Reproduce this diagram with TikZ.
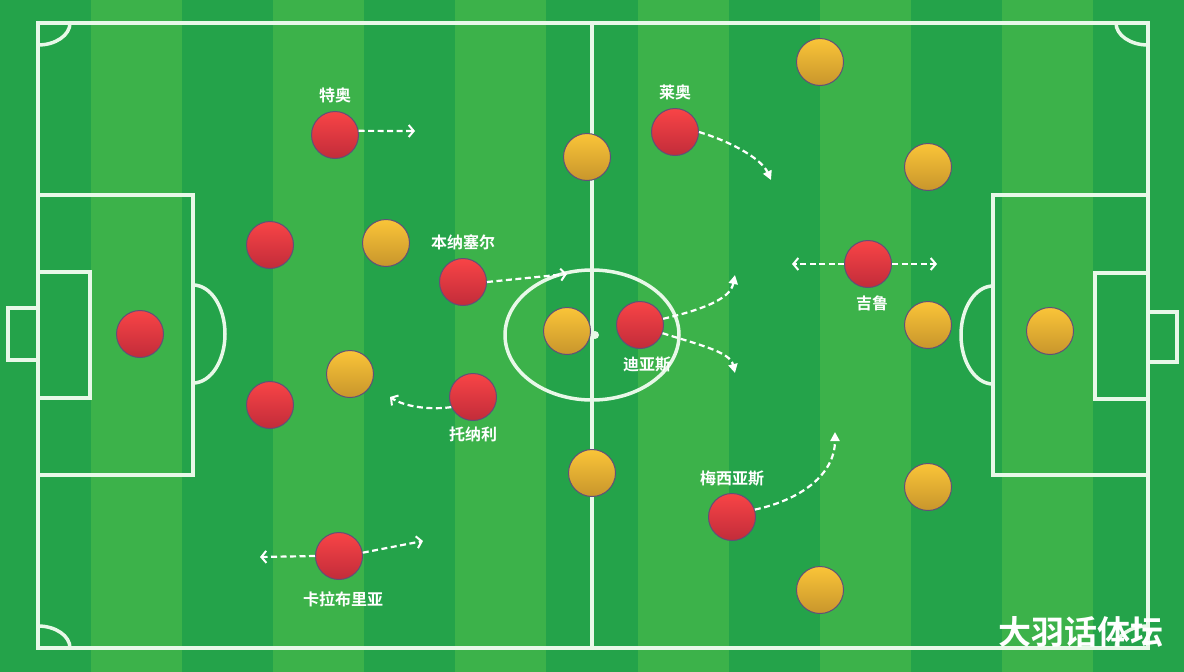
\documentclass[tikz,border=0pt]{standalone}
\usepackage{fontspec}
\newfontfamily\cjk{Noto Sans CJK SC}[BoldFont={Noto Sans CJK SC Bold}]
\usetikzlibrary{positioning,arrows.meta}

\definecolor{pitchdark}{RGB}{36,163,74}
\definecolor{pitchlight}{RGB}{60,178,74}
\definecolor{chalk}{RGB}{232,248,232}
\definecolor{redtop}{RGB}{248,68,70}
\definecolor{redbot}{RGB}{194,44,58}
\definecolor{goldtop}{RGB}{250,196,56}
\definecolor{goldbot}{RGB}{200,150,44}
\definecolor{rim}{RGB}{96,80,120}

\tikzset{
  pitchline/.style={draw=chalk, line width=3.5pt},
  player/.style={circle, minimum size=47pt, inner sep=0pt, line width=1pt, draw=rim},
  home/.style={player, top color=redtop, bottom color=redbot},
  away/.style={player, top color=goldtop, bottom color=goldbot},
  tag/.style={text=white, inner sep=0pt, font=\cjk\bfseries\fontsize{16}{16}\selectfont},
  run/.style={draw=white, line width=2.2pt, dash pattern=on 6pt off 3.5pt,
    -{Straight Barb[length=5pt,width=12pt,line width=2pt]}},
  curverun/.style={draw=white, line width=2.2pt, dash pattern=on 6pt off 3.5pt,
    -{Triangle[length=9pt,width=9pt]}}
}

\begin{document}
\begin{tikzpicture}[x=1pt, y=-1pt]
  \useasboundingbox (0,0) rectangle (1184,672);

  \foreach \i in {0,2,...,12}
    \fill[pitchdark] (\i*91.08,0) rectangle ++(91.08,672);
  \foreach \i in {1,3,...,11}
    \fill[pitchlight] (\i*91.08,0) rectangle ++(91.08,672);

  \draw[pitchline] (38,23) rectangle (1148,648);
  \draw[pitchline] (592,23) -- (592,648);
  \draw[pitchline] (592,335) ellipse [x radius=87, y radius=65];
  \fill[chalk] (595,335) circle [radius=4];

  \draw[pitchline] (38,195) rectangle (193,475);
  \draw[pitchline] (38,272) rectangle (90,398);
  \draw[pitchline] (38,308) -- (8,308) -- (8,360) -- (38,360);
  \draw[pitchline] (193,285) arc [start angle=-90, end angle=90, x radius=32, y radius=49];

  \draw[pitchline] (993,195) rectangle (1148,475);
  \draw[pitchline] (1095,273) rectangle (1148,399);
  \draw[pitchline] (1148,312) -- (1177,312) -- (1177,362) -- (1148,362);
  \draw[pitchline] (993,286) arc [start angle=270, end angle=90, x radius=32, y radius=49];

  \draw[pitchline] (70,23) arc [start angle=0, end angle=90, x radius=32, y radius=22];
  \draw[pitchline] (1116,23) arc [start angle=180, end angle=90, x radius=32, y radius=22];
  \draw[pitchline] (70,648) arc [start angle=0, end angle=-90, x radius=32, y radius=22];
  \draw[pitchline] (1116,648) arc [start angle=180, end angle=270, x radius=32, y radius=22];

  \node[home] (keeper) at (140,334) {};
  \node[home] (cbl) at (270,245) {};
  \node[home] (cbr) at (270,405) {};
  \node[home] (teo) at (335,135) {};
  \node[home] (calabria) at (339,556) {};
  \node[home] (bennacer) at (463,282) {};
  \node[home] (tonali) at (473,397) {};
  \node[home] (leao) at (675,132) {};
  \node[home] (diaz) at (640,325) {};
  \node[home] (messias) at (732,517) {};
  \node[home] (giroud) at (868,264) {};

  \node[away] (o1) at (386,243) {};
  \node[away] (o2) at (350,374) {};
  \node[away] (o3) at (587,157) {};
  \node[away] (o4) at (567,331) {};
  \node[away] (o5) at (592,473) {};
  \node[away] (o6) at (820,62) {};
  \node[away] (o7) at (928,167) {};
  \node[away] (o8) at (928,325) {};
  \node[away] (o9) at (1050,331) {};
  \node[away] (o10) at (928,487) {};
  \node[away] (o11) at (820,590) {};

  \node[tag, above=8pt of teo] (teoname) {特奥};
  \node[tag, above=8pt of bennacer] (bennacername) {本纳塞尔};
  \node[tag, below=6pt of tonali] (tonaliname) {托纳利};
  \node[tag, below=11pt of calabria, xshift=4pt] (calabrianame) {卡拉布里亚};
  \node[tag, above=8pt of leao] (leaoname) {莱奥};
  \node[tag, below=8pt of diaz, xshift=7pt] (diazname) {迪亚斯};
  \node[tag, below=8pt of giroud, xshift=4pt] (giroudname) {吉鲁};
  \node[tag, above=7pt of messias] (messiasname) {梅西亚斯};

  \coordinate (teoend) at (415,131);
  \coordinate (bennacerend) at (567,274);
  \coordinate (tonaliend) at (390,397);
  \coordinate (calabrialeft) at (260,557);
  \coordinate (calabriaright) at (423,541);
  \coordinate (leaoend) at (771,180);
  \coordinate (diazup) at (735,275);
  \coordinate (diazdown) at (735,373);
  \coordinate (giroudleft) at (792,264);
  \coordinate (giroudright) at (937,264);
  \coordinate (messiasend) at (835,432);

  \draw[run] (teo.10) -- (teoend);
  \draw[run] (bennacer.east) -- (bennacerend);
  \draw[run] (tonali.205) .. controls (430,410) and (405,407) .. (tonaliend);
  \draw[run] (calabria.west) -- (calabrialeft);
  \draw[run] (calabria.8) -- (calabriaright);
  \draw[curverun] (leao.east) .. controls (735,143) and (762,160) .. (leaoend);
  \draw[curverun] (diaz.15) .. controls (700,310) and (730,300) .. (diazup);
  \draw[curverun] (diaz.-20) .. controls (700,345) and (730,352) .. (diazdown);
  \draw[run] (giroud.west) -- (giroudleft);
  \draw[run] (giroud.east) -- (giroudright);
  \draw[curverun] (messias.18) .. controls (800,500) and (835,475) .. (messiasend);

  \node[text=white, font=\cjk\bfseries\fontsize{33}{33}\selectfont] (brand) at (1081,632) {大羽话体坛};
\end{tikzpicture}
\end{document}
